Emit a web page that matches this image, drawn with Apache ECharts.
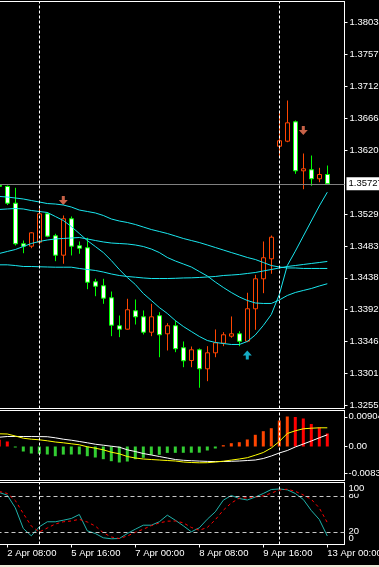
<!DOCTYPE html>
<html><head><meta charset="utf-8">
<script src="https://cdn.jsdelivr.net/npm/echarts@6/dist/echarts.min.js"></script>
<style>html,body{margin:0;padding:0;background:#000;overflow:hidden}#c{width:379px;height:567px}</style>
</head><body><div id="c"></div>
<script>
// bar index of the first value in every series below (bar 0 = 2 Apr 08:00, H4 bars)
const firstIndex = -1;
// candles: [open, close, low, high]
const candles = [
[1.35705,1.35690,1.35680,1.35720],
[1.35688,1.35449,1.35423,1.35702],
[1.35449,1.34868,1.34844,1.35669],
[1.34868,1.34834,1.34733,1.34915],
[1.34834,1.35025,1.34805,1.35034],
[1.34891,1.35297,1.34858,1.35369],
[1.35297,1.34977,1.34962,1.35320],
[1.34982,1.34705,1.34619,1.35011],
[1.34705,1.35226,1.34582,1.35273],
[1.35226,1.34834,1.34701,1.35259],
[1.34839,1.34805,1.34725,1.34901],
[1.34811,1.34318,1.34218,1.34954],
[1.34324,1.34261,1.34118,1.34367],
[1.34267,1.34090,1.34009,1.34367],
[1.34095,1.33703,1.33546,1.34185],
[1.33695,1.33646,1.33532,1.33842],
[1.33646,1.33924,1.33640,1.34081],
[1.33909,1.33823,1.33713,1.34071],
[1.33823,1.33603,1.33570,1.33914],
[1.33603,1.33823,1.33546,1.34009],
[1.33838,1.33566,1.33245,1.33889],
[1.33580,1.33695,1.33341,1.33732],
[1.33695,1.33366,1.33317,1.33770],
[1.33380,1.33194,1.33102,1.33470],
[1.33198,1.33351,1.33102,1.33398],
[1.33351,1.33079,1.32808,1.33370],
[1.33079,1.33308,1.32902,1.33403],
[1.33308,1.33451,1.33245,1.33642],
[1.33446,1.33566,1.33403,1.33603],
[1.33546,1.33580,1.33523,1.33828],
[1.33580,1.33474,1.33403,1.33617],
[1.33474,1.33938,1.33460,1.34167],
[1.33938,1.34367,1.33637,1.34424],
[1.34367,1.34668,1.34161,1.34901],
[1.34653,1.34962,1.34439,1.34987],
[1.36264,1.36342,1.36107,1.36761],
[1.36336,1.36599,1.36322,1.36918],
[1.36613,1.35912,1.35869,1.36632],
[1.35912,1.35941,1.35649,1.36160],
[1.35927,1.35798,1.35698,1.36131],
[1.35798,1.35859,1.35749,1.35955],
[1.35859,1.35727,1.35712,1.35988]
];
const maUpper = [1.35545,1.35537,1.35523,1.35509,1.35487,1.35466,1.35444,1.35437,1.35423,1.35394,1.35351,1.35330,1.35309,1.35273,1.35223,1.35194,1.35173,1.35144,1.35108,1.35072,1.35044,1.35015,1.34980,1.34944,1.34915,1.34886,1.34851,1.34815,1.34779,1.34743,1.34708,1.34672,1.34643,1.34600,1.34557,1.34536,1.34522,1.34522,1.34515,1.34515,1.34515,1.34515];
const maSlow = [1.34567,1.34567,1.34557,1.34543,1.34543,1.34539,1.34536,1.34533,1.34533,1.34533,1.34515,1.34500,1.34486,1.34464,1.34436,1.34414,1.34400,1.34390,1.34379,1.34371,1.34371,1.34371,1.34374,1.34379,1.34381,1.34386,1.34393,1.34400,1.34414,1.34421,1.34429,1.34443,1.34457,1.34479,1.34500,1.34522,1.34543,1.34557,1.34572,1.34586,1.34600,1.34615];
const maMiddle = [1.34729,1.34758,1.34786,1.34829,1.34872,1.34901,1.34922,1.34937,1.34944,1.34951,1.34958,1.34937,1.34915,1.34894,1.34879,1.34872,1.34865,1.34851,1.34829,1.34793,1.34743,1.34672,1.34622,1.34579,1.34536,1.34471,1.34407,1.34321,1.34243,1.34171,1.34107,1.34057,1.34021,1.34014,1.34014,1.34064,1.34128,1.34171,1.34200,1.34228,1.34264,1.34296];
const maFast = [1.35359,1.35366,1.35373,1.35366,1.35344,1.35330,1.35316,1.35259,1.35201,1.35115,1.35015,1.34915,1.34829,1.34743,1.34629,1.34500,1.34386,1.34286,1.34157,1.34057,1.33956,1.33871,1.33770,1.33685,1.33613,1.33542,1.33484,1.33456,1.33441,1.33427,1.33427,1.33470,1.33563,1.33699,1.33856,1.34142,1.34557,1.34762,1.34978,1.35194,1.35409,1.35606];
const histogram = [0.00204,0.00153,-0.00031,-0.00153,-0.00214,-0.00223,-0.00244,-0.00296,-0.00247,-0.00244,-0.00241,-0.00296,-0.00336,-0.00387,-0.00448,-0.00488,-0.00458,-0.00387,-0.00345,-0.00255,-0.00253,-0.00195,-0.00193,-0.00192,-0.00190,-0.00189,-0.00122,-0.00061,0.00040,0.00101,0.00131,0.00214,0.00357,0.00467,0.00558,0.00793,0.00915,0.00900,0.00854,0.00686,0.00580,0.00397];
const macdWhite = [0.00284,0.00305,0.00306,0.00305,0.00304,0.00302,0.00298,0.00265,0.00223,0.00192,0.00153,0.00113,0.00070,0.00040,0.00009,-0.00021,-0.00101,-0.00153,-0.00214,-0.00259,-0.00305,-0.00351,-0.00397,-0.00421,-0.00433,-0.00445,-0.00454,-0.00461,-0.00458,-0.00451,-0.00442,-0.00427,-0.00412,-0.00366,-0.00290,-0.00198,-0.00122,-0.00015,0.00076,0.00168,0.00265,0.00357];
const macdYellow = [0.00387,0.00381,0.00320,0.00253,0.00223,0.00204,0.00174,0.00137,0.00113,0.00082,0.00052,-0.00009,-0.00052,-0.00101,-0.00174,-0.00223,-0.00305,-0.00351,-0.00381,-0.00397,-0.00412,-0.00427,-0.00442,-0.00473,-0.00488,-0.00497,-0.00494,-0.00473,-0.00448,-0.00415,-0.00381,-0.00342,-0.00265,-0.00183,-0.00046,0.00153,0.00397,0.00479,0.00540,0.00558,0.00570,0.00570];
const stochMain = [85.5,81.0,60.0,25.5,13.3,28.3,36.7,36.7,39.3,42.2,48.8,21.6,17.1,10.0,8.3,8.8,17.1,24.3,31.0,31.0,36.7,47.7,39.3,30.0,20.0,26.6,41.0,53.3,72.7,80.5,75.5,73.0,78.0,83.9,90.5,91.4,90.0,83.9,73.9,55.5,40.5,13.0];
const stochSignal = [87.2,83.9,72.2,50.5,29.6,19.6,26.3,33.0,36.7,38.0,40.8,36.3,29.6,18.3,11.3,8.8,13.0,19.1,24.3,30.2,34.7,37.7,38.0,35.0,27.2,22.6,27.2,40.0,56.0,68.0,76.0,76.7,78.0,79.9,84.4,89.7,91.0,87.5,81.4,74.2,59.7,35.5];
const downArrows = [[7,1.35487],[37,1.36489]];
const upArrows = [[30,1.33277]];
const daySeparators = [4,34];
const timeTickIndex = [0,8,16,24,32,40];
const timeTickLabels = ['2 Apr 08:00','5 Apr 16:00','7 Apr 00:00','8 Apr 08:00','9 Apr 16:00','13 Apr 00:00'];
const priceTicks = [1.32555,1.33012,1.33468,1.33925,1.34381,1.34838,1.35295,1.36208,1.36664,1.37121,1.37577,1.38034];
const currentPrice = 1.35727;
const macdTicks = [0.00904,0,-0.0083];
const macdTickLabels = ['0.009040','0.00','-0.008300'];
const stochLevelTicks = [80,20];
const stochEdgeTicks = [100,0];
const stochLevels = [80,20];

const FONT = 'Liberation Sans, Arial, sans-serif';
const xr = i => firstIndex + i;
const pairs = arr => arr.map((v,i)=>[xr(i), v]);
const xMin = -1.225, xMax = 42.15;
const gridCommon = {left:-2.5, width:347, show:true, borderColor:'#fff', borderWidth:1, backgroundColor:'#000', outerBoundsMode:'none', containLabel:false};
const sepLines = daySeparators.map(k=>({xAxis:k, lineStyle:{color:'#fff', type:[3,2], width:1}, label:{show:false}}));
const lblCommon = {hideOverlap:false, showMinLabel:true, showMaxLabel:true, fontFamily:FONT, fontSize:9.5};

function xAxisDef(gi, withLabels){
  return {gridIndex:gi, type:'value', min:xMin, max:xMax,
    axisLine:{show:withLabels, onZero:false, lineStyle:{color:'#fff'}},
    axisTick:{show:withLabels, customValues:timeTickIndex, length:3, lineStyle:{color:'#fff'}},
    axisLabel:Object.assign({show:withLabels, customValues:timeTickIndex, align:'left', margin:4, color:'#fff',
      formatter:v=>{const j=timeTickIndex.indexOf(Math.round(v)); return j>=0?timeTickLabels[j]:'';}}, lblCommon),
    splitLine:{show:false}};
}

const histData = histogram.map((v,i)=>{
  const prev = i>0 ? histogram[i-1] : v;
  let c;
  if (v < 0) c = '#32cd32';
  else c = (v > prev) ? '#ff4500' : '#ff0000';
  return {value:[xr(i), v], itemStyle:{color:c}};
});

const arrowDown = 'path://M3,0 H6 V4 H9 L4.5,9 L0,4 H3 Z';
const arrowUp = 'path://M4.5,0 L9,5 H6 V9 H3 V5 H0 Z';
const maColor = '#19e6ee';
const richB = {color:'#fff', backgroundColor:'#000', fontSize:9.5, lineHeight:10, fontFamily:FONT};
const richS = {fontSize:9.5, lineHeight:10};

const option = {
  backgroundColor:'#000',
  animation:false,
  textStyle:{fontFamily:FONT},
  grid:[
    Object.assign({top:1.5, height:407}, gridCommon),
    Object.assign({top:410.5, height:70}, gridCommon),
    Object.assign({top:482.5, height:62}, gridCommon)
  ],
  xAxis:[xAxisDef(0,false), xAxisDef(1,false), xAxisDef(2,true)],
  yAxis:[
    {gridIndex:0, type:'value', position:'right', min:1.32511, max:1.38335,
      axisLine:{show:true, onZero:false, lineStyle:{color:'#fff'}},
      axisTick:{show:true, customValues:priceTicks, length:3, lineStyle:{color:'#fff'}},
      axisLabel:Object.assign({customValues:priceTicks, formatter:v=>v.toFixed(5), color:'#fff', margin:5}, lblCommon),
      splitLine:{show:false}},
    {gridIndex:1, type:'value', position:'right', min:-0.01037, max:0.01098,
      axisLine:{show:true, onZero:false, lineStyle:{color:'#fff'}},
      axisTick:{show:true, customValues:macdTicks, length:3, lineStyle:{color:'#fff'}},
      axisLabel:Object.assign({customValues:macdTicks, color:'#fff', margin:4,
        formatter:v=>{let j=0,b=1e9;macdTicks.forEach((t,i)=>{if(Math.abs(t-v)<b){b=Math.abs(t-v);j=i;}});return macdTickLabels[j];}}, lblCommon),
      splitLine:{show:false}},
    {gridIndex:2, type:'value', position:'right', offset:0, min:-1.2, max:102.2,
      axisLine:{show:true, onZero:false, lineStyle:{color:'#fff'}},
      axisTick:{show:false},
      axisLabel:Object.assign({customValues:stochLevelTicks, margin:4,
        formatter:v=>'{b|'+Math.round(v)+'}', rich:{b:richB}}, lblCommon),
      splitLine:{show:false}},
    {gridIndex:2, type:'value', position:'right', offset:0, min:-1.2, max:102.2,
      axisLine:{show:false, onZero:false},
      axisTick:{show:false},
      axisLabel:Object.assign({customValues:stochEdgeTicks, margin:4,
        formatter:v=>{const r=Math.round(v); return r>=50 ? '{s| }\n{b|'+r+'}' : '{b|'+r+'}\n{s| }';},
        rich:{b:richB, s:richS}}, lblCommon),
      splitLine:{show:false}}
  ],
  series:[
    {type:'candlestick', xAxisIndex:0, yAxisIndex:0, barWidth:5, clip:true,
      data:candles.map((c,i)=>[xr(i)].concat(c)), encode:{x:0, y:[1,2,3,4]},
      itemStyle:{color:'#000', color0:'#ffffff', borderColor:'#ff4500', borderColor0:'#00ff00', borderWidth:1},
      markLine:{symbol:['none','none'], silent:true, animation:false, data:sepLines}},
    {type:'line', xAxisIndex:0, yAxisIndex:0, data:pairs(maUpper), symbol:'none', lineStyle:{color:maColor, width:1},
      markLine:{symbol:['none','none'], silent:true, animation:false, precision:5,
        data:[{yAxis:currentPrice, lineStyle:{color:'#808080', type:'solid', width:1},
          label:{show:true, position:'end', formatter:currentPrice.toFixed(5), color:'#000', backgroundColor:'#fff', padding:[2,3,1,2], fontSize:9.5, fontFamily:FONT, distance:2}}]}},
    {type:'line', xAxisIndex:0, yAxisIndex:0, data:pairs(maSlow), symbol:'none', lineStyle:{color:maColor, width:1}},
    {type:'line', xAxisIndex:0, yAxisIndex:0, data:pairs(maMiddle), symbol:'none', lineStyle:{color:maColor, width:1}},
    {type:'line', xAxisIndex:0, yAxisIndex:0, data:pairs(maFast), symbol:'none', lineStyle:{color:maColor, width:1}},
    {type:'scatter', xAxisIndex:0, yAxisIndex:0, data:downArrows, symbol:arrowDown, symbolSize:[9,9], itemStyle:{color:'#fa7a5a'}},
    {type:'scatter', xAxisIndex:0, yAxisIndex:0, data:upArrows, symbol:arrowUp, symbolSize:[9,9], itemStyle:{color:'#1ad6f5'}},
    {type:'bar', xAxisIndex:1, yAxisIndex:1, data:histData, barWidth:3,
      markLine:{symbol:['none','none'], silent:true, animation:false, data:sepLines}},
    {type:'line', xAxisIndex:1, yAxisIndex:1, data:pairs(macdWhite), symbol:'none', lineStyle:{color:'#ffffff', width:1}},
    {type:'line', xAxisIndex:1, yAxisIndex:1, data:pairs(macdYellow), symbol:'none', lineStyle:{color:'#ffff00', width:1}},
    {type:'line', xAxisIndex:2, yAxisIndex:2, data:pairs(stochMain), symbol:'none', lineStyle:{color:'#20b2aa', width:1},
      markLine:{symbol:['none','none'], silent:true, animation:false,
        data:stochLevels.map(v=>({yAxis:v, lineStyle:{color:'#c8c8c8', type:[4,3], width:1}, label:{show:false}})).concat(sepLines)}},
    {type:'line', xAxisIndex:2, yAxisIndex:2, data:pairs(stochSignal), symbol:'none', lineStyle:{color:'#ff0000', width:1, type:[3,3]}}
  ],
  graphic:[{type:'rect', shape:{x:0, y:565, width:379, height:2}, style:{fill:'#ece9d8'}, silent:true}]
};
const chart = echarts.init(document.getElementById('c'), null, {renderer:'canvas'});
chart.setOption(option);
</script>
</body></html>
